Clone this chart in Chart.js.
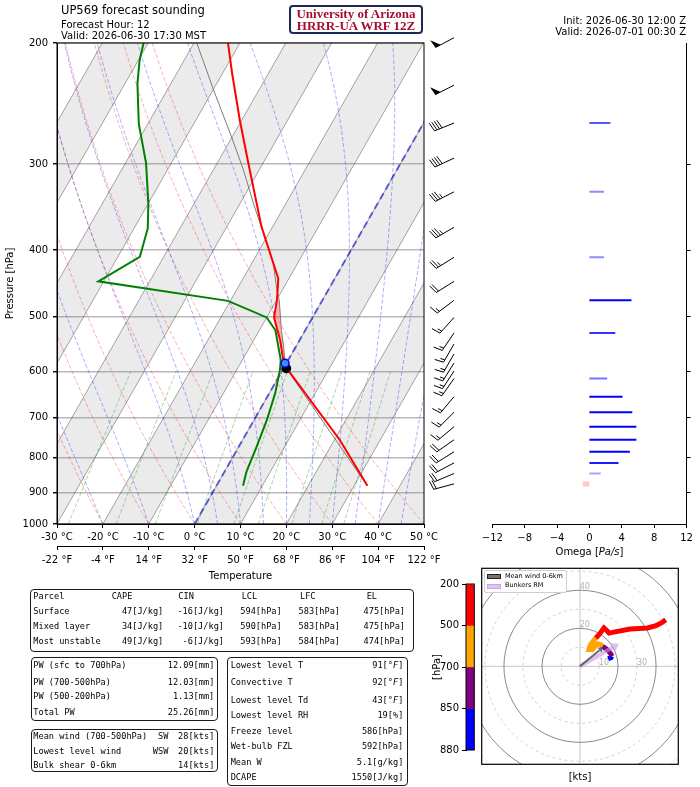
<!DOCTYPE html>
<html>
<head>
<meta charset="utf-8">
<title>UP569 forecast sounding</title>
<script src="https://cdn.jsdelivr.net/npm/chart.js"></script>
<style>
  body { margin: 0; width: 700px; height: 787px; position: relative; overflow: hidden; background: #fff; font-family: "DejaVu Sans", sans-serif; }
  canvas { position: absolute; }
  .t { position: absolute; white-space: nowrap; line-height: 1.15; color: #000; }
  .box { position: absolute; box-sizing: border-box; border: 1.3px solid #1a1a1a; border-radius: 4px; }
</style>
</head>
<body>
<canvas id="skew" width="470" height="590" style="left:0;top:0"></canvas>
<canvas id="omega" width="275" height="590" style="left:425px;top:0"></canvas>
<canvas id="hodo" width="270" height="227" style="left:430px;top:560px"></canvas>
<canvas id="cbar" width="55" height="185" style="left:425px;top:575px"></canvas>
<script>
// sounding profiles (hPa, degC)
const tempP   = [880, 755, 594, 574, 540, 501, 473, 440, 370, 299, 259, 221, 200];
const tempC   = [32.9, 21.2, 0.7, -1.4, -4.3, -8.4, -9.9, -12.3, -22.4, -33.2, -40.4, -48.0, -52.6];
const dewP    = [880, 840, 772, 706, 646, 597, 578, 523, 501, 474, 444, 409, 372, 342, 299, 262, 229, 212, 200];
const dewC    = [5.8, 4.8, 3.9, 2.8, 1.3, -0.6, -1.6, -6.5, -10.0, -20.5, -51.2, -45.2, -47.0, -50.0, -55.5, -62.0, -67.3, -69.7, -71.0];
const parcelP = [880, 594, 584, 552, 523, 473, 457, 418, 391, 342, 306, 274, 234, 200];
const parcelC = [32.9, 0.6, -0.3, -2.7, -5.2, -9.4, -11.2, -15.3, -19.2, -27.1, -33.4, -40.1, -49.9, -59.4];
const lclPoint = [594, 0.6];
const lfcPoint = [584, -0.3];

// model levels: wind barbs and omega
const levP     = [196.5, 230.3, 261.4, 294.0, 329.1, 370.6, 409.7, 444.1, 473.1, 501.1, 527.8, 547.6, 566.2, 583.6, 599.4, 614.6, 653.2, 688.0, 722.2, 754.5, 785.4, 815.1, 844.5, 874.4];
const levSpd   = [50, 50, 40, 40, 35, 35, 25, 20, 15, 15, 15, 15, 15, 15, 15, 15, 15, 15, 15, 20, 20, 20, 20, 20];
const levDir   = [242, 243, 248, 245, 243, 240, 238, 238, 233, 222, 214, 210, 210, 212, 213, 215, 220, 225, 230, 235, 238, 242, 247, 255];
const levOmega = [0, 0, 2.6, 0, 1.8, 0, 1.8, 0, 5.2, 0, 3.2, 0, 0, 0, 0, 2.2, 4.1, 5.3, 5.8, 5.8, 5.0, 3.6, 1.4, -0.8];

// hodograph (kts)
const hodoP = [875, 860, 850, 820, 790, 750, 700, 680, 650, 620, 600, 570, 530, 500, 473, 444, 425, 410, 371, 330, 294, 261, 230, 200];
const hodoU = [14.8, 16.3, 16.8, 16.2, 15.0, 13.5, 11.8, 11.0, 9.2, 6.5, 4.7, 5.3, 7.4, 8.3, 10.0, 12.6, 14.1, 15.3, 17.1, 26.3, 35.5, 40.0, 43.0, 45.1];
const hodoV = [4.0, 4.6, 5.3, 6.6, 8.0, 9.4, 10.6, 11.4, 11.9, 8.8, 8.8, 10.9, 14.0, 14.9, 16.7, 20.2, 18.9, 17.6, 17.9, 19.7, 20.2, 21.5, 23.0, 24.6];
const meanWind = [12.3, 10.2];
const bunkersRM = [20.5, 11.9];
const cbLevels = [200, 500, 700, 850, 880];
const cbColors = ['#ff0000', '#ffa500', '#800080', '#0000ff'];

// axis ticks
const pTicks = [200, 300, 400, 500, 600, 700, 800, 900, 1000];
const fTicks = [-22, -4, 14, 32, 50, 68, 86, 104, 122];

// tables
const parcelHead = ['Parcel', 'CAPE', 'CIN', 'LCL', 'LFC', 'EL'];
const parcelNames = ['Surface', 'Mixed layer', 'Most unstable'];
const capeVals = [47, 34, 49];
const cinVals = [-16, -10, -6];
const lclVals = [594, 590, 593];
const lfcVals = [583, 583, 584];
const elVals = [475, 475, 474];
const pwNames = ['PW (sfc to 700hPa)', 'PW (700-500hPa)', 'PW (500-200hPa)', 'Total PW'];
const pwVals = [12.09, 12.03, 1.13, 25.26];
const windNames = ['Mean wind (700-500hPa)', 'Lowest level wind', 'Bulk shear 0-6km'];
const windDirs = ['SW', 'WSW', ''];
const windSpds = [28, 20, 14];
const statNames = ['Lowest level T', 'Convective T', 'Lowest level Td', 'Lowest level RH', 'Freeze level', 'Wet-bulb FZL', 'Mean W', 'DCAPE'];
const statVals = ['91', '92', '43', '19', '586', '592', '5.1', '1550'];
const statUnits = ['[°<i>F</i>]', '[°<i>F</i>]', '[°<i>F</i>]', '[%]', '[hPa]', '[hPa]', '[g/kg]', '[J/kg]'];

Chart.defaults.font.family = '"DejaVu Sans", sans-serif';
Chart.defaults.font.size = 10;
Chart.defaults.color = '#000';

// skew-T transform: x position of temperature t at pressure p
const SKEW = 37.2;
const sx = (t, p) => t + SKEW * Math.log(1000 / p);
const prof = (ps, ts) => ps.map((p, i) => ({x: sx(ts[i], p), y: p}));

// background lines
const refSets = [];
function refLine(data, color, width, dash, order) {
  refSets.push({data, showLine: true, borderColor: color, borderWidth: width, borderDash: dash,
    pointRadius: 0, fill: false, order});
}
for (let t = -100; t <= 50; t += 10) {
  refLine([{x: sx(t, 1000), y: 1000}, {x: sx(t, 200), y: 200}], 'rgba(0,0,0,0.35)', 1, [], 9);
}
for (let t0 = -30; t0 <= 50; t0 += 10) {
  const d = [];
  for (let p = 1000; p >= 200; p -= 20) d.push({x: sx((t0 + 273.15) * Math.pow(p / 1000, 0.2857) - 273.15, p), y: p});
  refLine(d, 'rgba(255,0,0,0.32)', 1, [4, 2], 8);
}
function moistRate(p, T) {
  const Rd = 287.04749, Lv = 2.50084e6, Cp = 1004.6662, eps = 0.622;
  const es = 6.112 * Math.exp(17.67 * (T - 273.15) / (T - 29.65));
  const rs = eps * es / Math.max(p - es, 1);
  return (Rd * T + Lv * rs) / (Cp + Lv * Lv * rs * eps / (Rd * T * T)) / p;
}
const moistT0 = [-30, -20, -10];
for (let t = 0; t <= 50; t += 5) moistT0.push(t);
moistT0.forEach(t0 => {
  let T = t0 + 273.15;
  const d = [], h = -10;
  for (let p = 1000; p >= 200; p += h) {
    d.push({x: sx(T - 273.15, p), y: p});
    const k1 = moistRate(p, T), k2 = moistRate(p + h / 2, T + h / 2 * k1);
    const k3 = moistRate(p + h / 2, T + h / 2 * k2), k4 = moistRate(p + h, T + h * k3);
    T += h / 6 * (k1 + 2 * k2 + 2 * k3 + k4);
  }
  refLine(d, 'rgba(0,0,255,0.32)', 1, [4, 2], 7);
});
[0.0004, 0.001, 0.002, 0.004, 0.007, 0.01, 0.016, 0.024, 0.032].forEach(w => {
  const d = [];
  for (let p = 1000; p >= 600; p -= 50) {
    const v = Math.log(p * w / (0.622 + w) / 6.112);
    d.push({x: sx(243.5 * v / (17.67 - v), p), y: p});
  }
  refLine(d, 'rgba(0,140,0,0.35)', 1, [4, 2], 6);
});
refLine([{x: sx(0, 1000), y: 1000}, {x: sx(0, 200), y: 200}], 'rgba(0,0,220,0.55)', 2, [7, 4], 5);

const bandStarts = [-80, -60, -40, -20, 0, 20, 40];

function drawBarb(ctx, x0, y0, spd, dir) {
  const L = 21, H = 9, W = 6, SP = 2.7;
  const r = dir * Math.PI / 180;
  const dx = Math.sin(r), dy = -Math.cos(r);
  const nx = -dy, ny = dx;
  const ex = x0 + dx * L, ey = y0 + dy * L;
  ctx.beginPath(); ctx.moveTo(x0, y0); ctx.lineTo(ex, ey); ctx.stroke();
  let s = Math.round(spd / 5) * 5;
  const nFlag = Math.floor(s / 50); s -= nFlag * 50;
  const nFull = Math.floor(s / 10); s -= nFull * 10;
  const nHalf = s >= 5 ? 1 : 0;
  let off = 0;
  for (let i = 0; i < nFlag; i++) {
    const px = ex - dx * off, py = ey - dy * off;
    ctx.beginPath(); ctx.moveTo(px, py);
    ctx.lineTo(px + nx * H + dx * 1.2, py + ny * H + dy * 1.2);
    ctx.lineTo(px - dx * W, py - dy * W); ctx.closePath(); ctx.fill();
    off += W + SP * 0.6;
  }
  if (!nFlag && !nFull && nHalf) off = SP * 1.5;
  for (let i = 0; i < nFull + nHalf; i++) {
    const f = i < nFull ? 1 : 0.5;
    const px = ex - dx * off, py = ey - dy * off;
    ctx.beginPath(); ctx.moveTo(px, py);
    ctx.lineTo(px + (nx * H + dx * 2) * f, py + (ny * H + dy * 2) * f); ctx.stroke();
    off += SP;
  }
}

const skewDecor = {
  id: 'skewDecor',
  beforeDraw(chart) {
    const {ctx, chartArea: a, scales: {x, y}} = chart;
    ctx.save();
    ctx.beginPath(); ctx.rect(a.left, a.top, a.width, a.height); ctx.clip();
    ctx.fillStyle = 'rgba(0,0,0,0.08)';
    bandStarts.forEach(t => {
      const c = [[t, 1000], [t, 200], [t + 10, 200], [t + 10, 1000]];
      ctx.beginPath();
      c.forEach(([tt, p], i) => {
        const px = x.getPixelForValue(sx(tt, p)), py = y.getPixelForValue(p);
        i ? ctx.lineTo(px, py) : ctx.moveTo(px, py);
      });
      ctx.closePath(); ctx.fill();
    });
    ctx.restore();
  },
  beforeDatasetsDraw(chart) {
    const {ctx, scales: {x, y}} = chart;
    const lfc = lfcVals[0] + 1.5, el = elVals[0] - 2.5;
    const up = parcelP.map((p, i) => [p, parcelC[i]]).filter(([p]) => p <= lfc && p >= el);
    const env = tempP.map((p, i) => [p, tempC[i]]).filter(([p]) => p <= lfc && p >= el).reverse();
    ctx.save();
    ctx.fillStyle = 'rgba(255,0,0,0.3)';
    ctx.beginPath();
    up.concat(env).forEach(([p, t], i) => {
      const px = x.getPixelForValue(sx(t, p)), py = y.getPixelForValue(p);
      i ? ctx.lineTo(px, py) : ctx.moveTo(px, py);
    });
    ctx.closePath(); ctx.fill();
    ctx.restore();
  },
  afterDraw(chart) {
    const {ctx, chartArea: a, scales: {y}} = chart;
    ctx.save();
    ctx.strokeStyle = '#000'; ctx.lineWidth = 1;
    ctx.strokeRect(a.left, a.top, a.width, a.height);
    ctx.fillStyle = '#000'; ctx.lineWidth = 1;
    levP.forEach((p, i) => drawBarb(ctx, 454, y.getPixelForValue(p), levSpd[i], levDir[i]));
    ctx.restore();
  }
};

new Chart(document.getElementById('skew'), {
  type: 'scatter',
  data: {
    datasets: [
      {data: [{x: sx(lfcPoint[1], lfcPoint[0]), y: lfcPoint[0]}], pointRadius: 4, backgroundColor: '#3d8bff', borderColor: '#0000dd', borderWidth: 1.5, order: 0},
      {data: [{x: sx(lclPoint[1], lclPoint[0]), y: lclPoint[0]}], pointRadius: 4.5, backgroundColor: '#000', borderColor: '#000', order: 0.5},
      {data: prof(tempP, tempC), showLine: true, borderColor: '#ff0000', borderWidth: 2, pointRadius: 0, order: 1},
      {data: prof(dewP, dewC), showLine: true, borderColor: '#008000', borderWidth: 2, pointRadius: 0, order: 2},
      {data: prof(parcelP, parcelC), showLine: true, borderColor: '#7a7a7a', borderWidth: 1, pointRadius: 0, order: 3},
      ...refSets
    ]
  },
  options: {
    responsive: false, animation: false,
    layout: {padding: {top: 43, right: 46, left: 0, bottom: 0}},
    plugins: {legend: {display: false}, tooltip: {enabled: false}},
    scales: {
      x: {
        type: 'linear', min: -30, max: 50, position: 'bottom', weight: 0,
        ticks: {stepSize: 10, callback: v => v + ' °C', padding: 3, maxRotation: 0, autoSkip: false},
        grid: {drawOnChartArea: false, tickLength: 4, tickColor: '#000'},
        border: {color: '#000'},
        afterFit: s => { s.height = 22; }
      },
      x2: {
        type: 'linear', min: -22, max: 122, position: 'bottom', weight: 1,
        afterBuildTicks: s => { s.ticks = fTicks.map(v => ({value: v})); },
        ticks: {callback: v => v + ' °F', padding: 4, maxRotation: 0, autoSkip: false},
        grid: {drawOnChartArea: false, tickLength: 4, tickColor: '#000'},
        border: {color: '#000'},
        title: {display: true, text: 'Temperature', padding: {top: 0, bottom: 8}},
        afterFit: s => { s.height = 44; }
      },
      y: {
        type: 'logarithmic', min: 200, max: 1000, reverse: true,
        afterBuildTicks: s => { s.ticks = pTicks.map(v => ({value: v})); },
        ticks: {callback: v => String(v), padding: 5, autoSkip: false},
        grid: {color: 'rgba(128,128,128,0.55)', lineWidth: 1.4, tickColor: '#000', tickLength: 4},
        border: {color: '#000'},
        title: {display: true, text: 'Pressure [hPa]', padding: {top: 4, bottom: 0}},
        afterFit: s => { s.width = 57; }
      }
    }
  },
  plugins: [skewDecor]
});

// omega panel
const omegaSets = [];
levP.forEach((p, i) => {
  const w = levOmega[i];
  if (!w) return;
  const a = Math.min(1, Math.max(0.25, Math.abs(w) / 4));
  omegaSets.push({
    data: [{x: 0, y: p}, {x: w, y: p}], showLine: true, pointRadius: 0,
    borderColor: w > 0 ? `rgba(0,0,255,${a})` : 'rgba(255,0,0,0.22)',
    borderWidth: w > 0 ? 2 : 5, borderCapStyle: 'butt'
  });
});

new Chart(document.getElementById('omega'), {
  type: 'scatter',
  data: {datasets: omegaSets},
  options: {
    responsive: false, animation: false,
    layout: {padding: {top: 43, left: 67.3, right: 0, bottom: 0}},
    plugins: {legend: {display: false}, tooltip: {enabled: false}},
    scales: {
      x: {
        type: 'linear', min: -12, max: 12,
        ticks: {stepSize: 4, callback: v => (v < 0 ? '\u2212' : '') + Math.abs(v), padding: 4, maxRotation: 0},
        grid: {drawOnChartArea: false, tickLength: 4, tickColor: '#000'},
        border: {color: '#000'},
        afterFit: s => { s.height = 66; }
      },
      y: {
        type: 'logarithmic', position: 'right', min: 200, max: 1000, reverse: true,
        afterBuildTicks: s => { s.ticks = pTicks.slice(1, -1).map(v => ({value: v})); },
        ticks: {callback: () => '', padding: 0, autoSkip: false},
        grid: {drawOnChartArea: false, tickLength: 4, tickColor: '#000'},
        border: {color: '#000'},
        afterFit: s => { s.width = 13.5; }
      }
    }
  }
});

// hodograph
const hodoColor = p => p > 850 ? cbColors[3] : p > 700 ? cbColors[2] : p > 500 ? cbColors[1] : cbColors[0];
function arrow(ctx, x0, y0, x1, y1, lw, hl, hw, color) {
  const ang = Math.atan2(y1 - y0, x1 - x0);
  const bx = x1 - Math.cos(ang) * hl, by = y1 - Math.sin(ang) * hl;
  ctx.strokeStyle = color; ctx.fillStyle = color; ctx.lineWidth = lw;
  ctx.beginPath(); ctx.moveTo(x0, y0); ctx.lineTo(bx, by); ctx.stroke();
  ctx.beginPath(); ctx.moveTo(x1, y1);
  ctx.lineTo(bx + Math.sin(ang) * hw, by - Math.cos(ang) * hw);
  ctx.lineTo(bx - Math.sin(ang) * hw, by + Math.cos(ang) * hw);
  ctx.closePath(); ctx.fill();
}
const ringSpeeds = [10, 20, 30, 40, 50, 60, 70];
const hodoDecor = {
  id: 'hodoDecor',
  beforeDatasetsDraw(chart) {
    const {ctx, chartArea: a, scales: {x, y}} = chart;
    const cx = x.getPixelForValue(0), cy = y.getPixelForValue(0);
    const k = x.getPixelForValue(1) - cx;
    ctx.save();
    ctx.beginPath(); ctx.rect(a.left, a.top, a.width, a.height); ctx.clip();
    ctx.lineWidth = 1;
    ctx.strokeStyle = 'rgba(128,128,128,0.45)';
    ctx.beginPath(); ctx.moveTo(a.left, cy); ctx.lineTo(a.right, cy);
    ctx.moveTo(cx, a.top); ctx.lineTo(cx, a.bottom); ctx.stroke();
    ringSpeeds.forEach(r => {
      const solid = r % 20 === 0;
      ctx.setLineDash(solid ? [] : [3, 3]);
      ctx.strokeStyle = solid ? 'rgba(110,110,110,0.8)' : 'rgba(128,128,128,0.35)';
      ctx.beginPath(); ctx.arc(cx, cy, r * k, 0, 2 * Math.PI); ctx.stroke();
    });
    ctx.setLineDash([]);
    ctx.fillStyle = 'rgba(150,150,150,0.75)';
    ctx.font = '8px "DejaVu Sans"';
    ctx.textAlign = 'center'; ctx.textBaseline = 'middle';
    [10, 30].forEach(r => ctx.fillText(String(r), x.getPixelForValue(r + 2.6), y.getPixelForValue(1.8)));
    [20, 40].forEach(r => ctx.fillText(String(r), x.getPixelForValue(2.5), y.getPixelForValue(r + 2)));
    ctx.restore();
  },
  afterDatasetsDraw(chart) {
    const {ctx, chartArea: a, scales: {x, y}} = chart;
    const cx = x.getPixelForValue(0), cy = y.getPixelForValue(0);
    ctx.save();
    arrow(ctx, cx, cy, x.getPixelForValue(bunkersRM[0]), y.getPixelForValue(bunkersRM[1]), 4, 7, 4.5, 'rgba(200,150,235,0.6)');
    arrow(ctx, cx, cy, x.getPixelForValue(meanWind[0]), y.getPixelForValue(meanWind[1]), 2, 5, 3, 'rgba(80,80,80,0.85)');
    ctx.strokeStyle = '#000'; ctx.lineWidth = 1.2;
    ctx.strokeRect(a.left, a.top, a.width, a.height);
    ctx.restore();
  }
};

new Chart(document.getElementById('hodo'), {
  type: 'scatter',
  data: {
    datasets: [{
      data: hodoU.map((u, i) => ({x: u, y: hodoV[i]})),
      showLine: true, pointRadius: 0, borderWidth: 5, borderColor: cbColors[0],
      segment: {borderColor: c => hodoColor(hodoP[c.p0DataIndex])}
    }]
  },
  options: {
    responsive: false, animation: false,
    layout: {padding: {top: 8.3, left: 51.7, right: 21.7, bottom: 22.7}},
    plugins: {legend: {display: false}, tooltip: {enabled: false}},
    scales: {
      x: {type: 'linear', min: -51.7, max: 51.7, display: false},
      y: {type: 'linear', min: -51.7, max: 51.7, display: false}
    }
  },
  plugins: [hodoDecor]
});

// colour bar for the hodograph layers
new Chart(document.getElementById('cbar'), {
  type: 'bar',
  data: {
    labels: [''],
    datasets: cbColors.map(c => ({data: [1], backgroundColor: c, borderWidth: 0, barPercentage: 1, categoryPercentage: 1}))
  },
  options: {
    responsive: false, animation: false,
    layout: {padding: {top: 7.7, bottom: 10, right: 5.7, left: 0}},
    plugins: {legend: {display: false}, tooltip: {enabled: false}},
    scales: {
      x: {stacked: true, display: false},
      y: {
        stacked: true, min: 0, max: 4, reverse: true,
        afterBuildTicks: s => { s.ticks = cbLevels.map((_, i) => ({value: i})); },
        ticks: {callback: v => cbLevels[v], padding: 3, autoSkip: false},
        grid: {drawOnChartArea: false, tickLength: 4, tickColor: '#000'},
        border: {color: '#000'},
        title: {display: true, text: '[hPa]', padding: {top: 6, bottom: 0}},
        afterFit: s => { s.width = 41; }
      }
    }
  },
  plugins: [{
    id: 'cbFrame',
    afterDraw(chart) {
      const {ctx, chartArea: a} = chart;
      ctx.save(); ctx.strokeStyle = '#000'; ctx.lineWidth = 1;
      ctx.strokeRect(a.left, a.top, a.width, a.height); ctx.restore();
    }
  }]
});

// text
function txt(x, y, html, o = {}) {
  const d = document.createElement('div');
  d.className = 't';
  d.innerHTML = html;
  d.style.fontSize = (o.size || 10) + 'px';
  if (o.family) d.style.fontFamily = o.family;
  if (o.color) d.style.color = o.color;
  if (o.bold) d.style.fontWeight = 'bold';
  d.style.top = y + 'px';
  if (o.align === 'right') { d.style.right = (700 - x) + 'px'; d.style.transform = 'translateY(-50%)'; }
  else if (o.align === 'center') { d.style.left = x + 'px'; d.style.transform = 'translate(-50%,-50%)'; }
  else { d.style.left = x + 'px'; d.style.transform = 'translateY(-50%)'; }
  document.body.appendChild(d);
  return d;
}
function box(x1, y1, x2, y2, extra) {
  const b = document.createElement('div');
  b.className = 'box';
  Object.assign(b.style, {left: x1 + 'px', top: y1 + 'px', width: (x2 - x1) + 'px', height: (y2 - y1) + 'px'}, extra || {});
  document.body.appendChild(b);
}

txt(61, 10.5, 'UP569 forecast sounding', {size: 11.5});
txt(61, 24.5, 'Forecast Hour: 12');
txt(61, 35.5, 'Valid: 2026-06-30 17:30 MST');
txt(686, 20.5, 'Init: 2026-06-30 12:00 Z', {align: 'right'});
txt(686, 31.5, 'Valid: 2026-07-01 00:30 Z', {align: 'right'});
box(289, 5, 423, 34.3, {border: '2px solid #1d2951', borderRadius: '4px'});
const serif = '"Liberation Serif", "DejaVu Serif", serif';
txt(356, 14.3, 'University of Arizona', {align: 'center', size: 13, family: serif, bold: true, color: '#a50f2d'});
txt(356, 25.6, 'HRRR-UA WRF 12Z', {align: 'center', size: 13, family: serif, bold: true, color: '#a50f2d'});

txt(589.5, 551.5, 'Omega [<i>Pa/s</i>]', {align: 'center'});
txt(580, 777, '[kts]', {align: 'center'});

// hodograph legend
box(483.5, 570, 566.5, 592.5, {border: '0.8px solid #cfcfcf', borderRadius: '2px', background: 'rgba(255,255,255,0.85)'});
box(487, 574.3, 501, 579.3, {border: '1px solid #222', borderRadius: '0', background: 'rgba(90,90,90,0.85)'});
box(487, 583.5, 501, 588.5, {border: '1px solid #c9a4e6', borderRadius: '0', background: 'rgba(215,180,240,0.8)'});
txt(505, 577, 'Mean wind 0-6km', {size: 6.5});
txt(505, 586.3, 'Bunkers RM', {size: 6.5});

// tables
const mono = '"DejaVu Sans Mono", monospace';
const ms = 8.6;
box(30, 589.3, 414, 651.7);
const hdrX = [33.3, 111.7, 178.3, 241.7, 300, 366.7];
parcelHead.forEach((h, i) => txt(hdrX[i], 596.7, h, {family: mono, size: ms}));
const colR = [163.3, 224, 281.7, 340, 405];
const rowY1 = [612.3, 627.3, 642.3];
parcelNames.forEach((n, r) => {
  txt(33.3, rowY1[r], n, {family: mono, size: ms});
  const vals = [capeVals[r] + '[J/kg]', cinVals[r] + '[J/kg]', lclVals[r] + '[hPa]', lfcVals[r] + '[hPa]', elVals[r] + '[hPa]'];
  vals.forEach((v, c) => txt(colR[c], rowY1[r], v, {family: mono, size: ms, align: 'right'}));
});

box(30.7, 657.3, 218.3, 720.7);
const rowY2 = [665.7, 682.7, 697.3, 712.7];
pwNames.forEach((n, r) => {
  txt(33.3, rowY2[r], n, {family: mono, size: ms});
  txt(214.3, rowY2[r], pwVals[r].toFixed(2) + '[mm]', {family: mono, size: ms, align: 'right'});
});

box(30.7, 729, 218.3, 772);
const rowY3 = [736.7, 751.7, 766.3];
windNames.forEach((n, r) => {
  txt(33.3, rowY3[r], n, {family: mono, size: ms});
  if (windDirs[r]) txt(168.3, rowY3[r], windDirs[r], {family: mono, size: ms, align: 'right'});
  txt(214.3, rowY3[r], windSpds[r] + '[kts]', {family: mono, size: ms, align: 'right'});
});

box(226.7, 657.3, 408.3, 786.5);
const rowY4 = [665.7, 683.2, 700.5, 716, 731.7, 747.3, 763.1, 778.3];
statNames.forEach((n, r) => {
  txt(230.7, rowY4[r], n, {family: mono, size: ms});
  txt(403.3, rowY4[r], statVals[r] + statUnits[r], {family: mono, size: ms, align: 'right'});
});
</script>
</body>
</html>
